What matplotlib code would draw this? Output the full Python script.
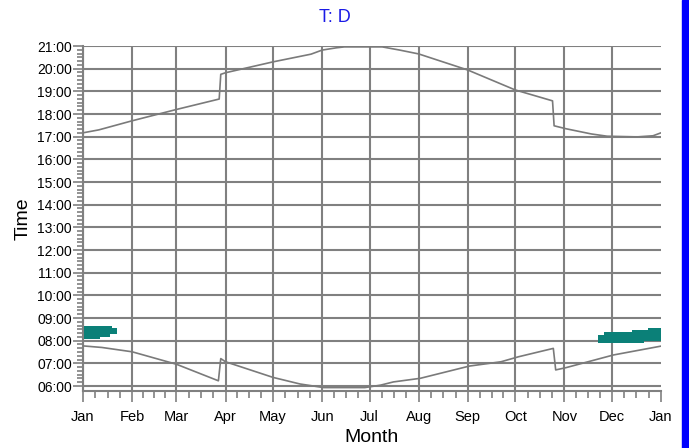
import matplotlib
matplotlib.use('Agg')
import matplotlib.pyplot as plt
from matplotlib.patches import Rectangle
from matplotlib.ticker import FixedLocator, FuncFormatter

plt.rcParams['font.family'] = ['Liberation Sans', 'DejaVu Sans']

# day of year (0 = 1 Jan) and hour of day
sunset_day = [0, 10, 31, 59, 86, 87, 90, 120, 144, 151, 160, 165, 189, 200,
              212, 243, 273, 296.5, 297.5, 305, 321, 331, 350, 360, 365]
sunset_hr = [17.17, 17.30, 17.70, 18.20, 18.66, 19.75, 19.82, 20.30, 20.64, 20.82,
             20.92, 20.96, 20.96, 20.82, 20.65, 19.94, 19.06, 18.58, 17.48, 17.35,
             17.12, 17.02, 16.99, 17.04, 17.17]

sunrise_day = [0, 12, 31, 59, 85.5, 87, 90, 120, 137, 152, 178, 188, 196, 213,
               244, 264, 275, 297, 298.5, 305, 335, 365]
sunrise_hr = [7.77, 7.70, 7.51, 6.96, 6.23, 7.21, 7.07, 6.38, 6.09, 5.93, 5.93,
              6.04, 6.18, 6.34, 6.88, 7.07, 7.29, 7.66, 6.71, 6.81, 7.37, 7.76]

# teal blocks (start day of each step, top and bottom hour)
jan_day = [0.8, 10.8, 17, 18.1, 21.3]
jan_top = [8.65, 8.65, 8.65, 8.54, 8.54]
jan_bot = [8.07, 8.15, 8.28, 8.28, 8.28]

dec_day = [325, 329, 347, 354.5, 357, 365]
dec_top = [8.26, 8.40, 8.47, 8.47, 8.56, 8.56]
dec_bot = [7.88, 7.88, 7.88, 8.00, 8.00, 8.00]

month_start = [0, 31, 59, 90, 120, 151, 181, 212, 243, 273, 304, 334, 365]
month_lbl = ['Jan', 'Feb', 'Mar', 'Apr', 'May', 'Jun', 'Jul', 'Aug', 'Sep',
             'Oct', 'Nov', 'Dec', 'Jan']

grey = '#808080'
teal = '#0b8078'

fig = plt.figure(figsize=(6.89, 4.48), dpi=100)
ax = fig.add_axes([83/689, 1 - 391/448, 578/689, 345/448])

ax.set_xlim(0, 365)
ax.set_ylim(5.78, 21)

# grid
for h in range(6, 22):
    ax.axhline(h, color=grey, lw=1.5, zorder=1)
for d in month_start[:-1]:
    ax.axvline(d, color=grey, lw=1.5, zorder=1)

ax.fill_between(jan_day, jan_bot, jan_top, step='post', color=teal, lw=0, zorder=3)
ax.fill_between(dec_day, dec_bot, dec_top, step='post', color=teal, lw=0, zorder=3)

ax.plot(sunset_day, sunset_hr, color='#7a7a7a', lw=1.2, zorder=4)
ax.plot(sunrise_day, sunrise_hr, color='#7a7a7a', lw=1.2, zorder=4)

# ticks
ax.yaxis.set_major_locator(FixedLocator(range(6, 22)))
ax.yaxis.set_minor_locator(FixedLocator([6 + i / 6 for i in range(0, 91) if i % 6]))
ax.yaxis.set_major_formatter(FuncFormatter(lambda v, p: '%02d:00' % int(round(v))))

minor_x = []
for a, b in zip(month_start[:-1], month_start[1:]):
    minor_x += [a + k * (b - a) / 4 for k in (1, 2, 3)]
ax.xaxis.set_major_locator(FixedLocator(month_start))
ax.xaxis.set_minor_locator(FixedLocator(minor_x))
ax.set_xticklabels(month_lbl)

ax.tick_params(axis='y', which='major', length=7, width=1.2, color=grey, pad=1, labelsize=10)
ax.tick_params(axis='y', which='minor', length=4, width=1.2, color=grey)
ax.tick_params(axis='x', which='major', length=8, width=1.2, color=grey, pad=6, labelsize=10.5)
ax.tick_params(axis='x', which='minor', length=5, width=1.2, color=grey)

for s in ['top', 'right']:
    ax.spines[s].set_visible(False)
for s in ['left', 'bottom']:
    ax.spines[s].set_color(grey)
    ax.spines[s].set_linewidth(1.5)

ax.set_xlabel('Month', fontsize=14, labelpad=3)
ax.set_ylabel('Time', fontsize=14, labelpad=4)

fig.text(335/689, 1 - 17/448, 'T: D', color='#1a1ae6', fontsize=13, ha='center', va='center')

# blue strip at the right edge
fig.patches.append(Rectangle((682/689, 0), 7/689, 1, transform=fig.transFigure,
                             color='#0000ff', zorder=0))

fig.savefig('out.png', dpi=100)
